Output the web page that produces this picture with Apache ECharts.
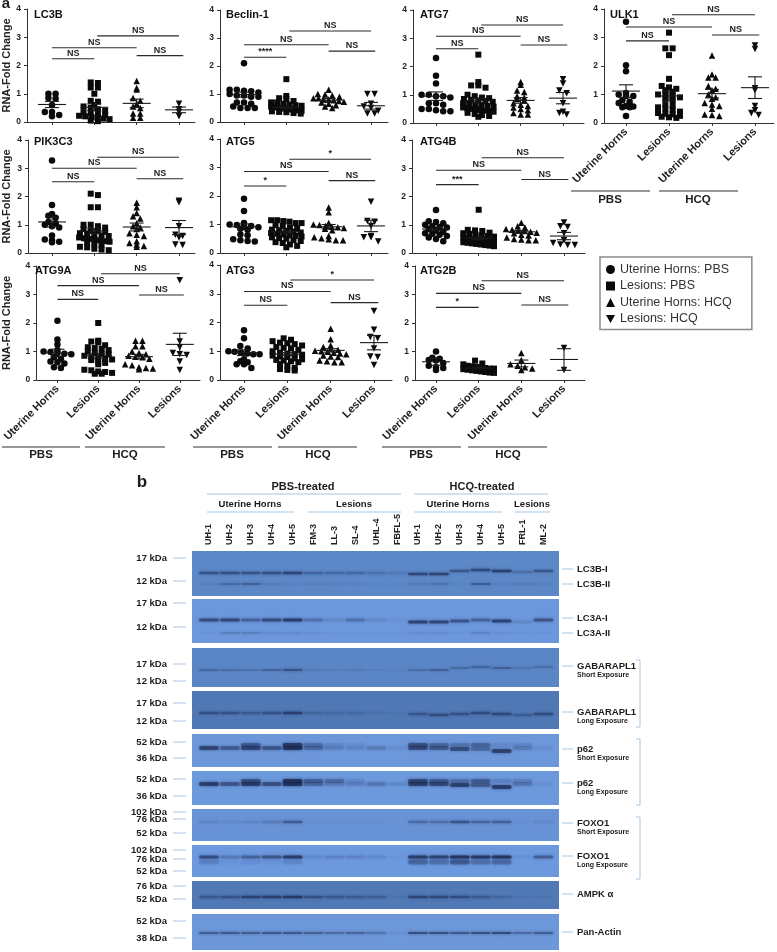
<!DOCTYPE html>
<html>
<head>
<meta charset="utf-8">
<style>html,body{margin:0;padding:0;background:#fff}#c{width:777px;height:952px;filter:blur(.35px)}</style>
<script src="https://cdn.jsdelivr.net/npm/echarts@6/dist/echarts.min.js"></script>
</head>
<body>
<div id="c"></div>
<script>
// ---------- data: RNA fold change ----------
const groupNames = ['Uterine Horns: PBS','Lesions: PBS','Uterine Horns: HCQ','Lesions: HCQ'];
const xCategories = ['Uterine Horns','Lesions','Uterine Horns','Lesions'];

const LC3B = [[1.0,1.0,.85,.83,.6,.35,.35,.25,.2],
 [1.4,1.38,1.22,1.22,1.0,.75,.72,.6,.55,.5,.45,.4,.35,.32,.28,.25,.22,.2,.18,.15,.12,.1,.05,.03],
 [1.45,1.2,1.15,.85,.75,.65,.55,.5,.3,.3,.15,.15],[.65,.45,.35,.2]];
const Beclin1 = [[2.1,1.15,1.15,1.12,1.1,1.05,1.0,.95,.95,.9,.9,.7,.7,.65,.55,.5,.5,.5],
 [1.53,.93,.85,.82,.75,.7,.7,.65,.62,.6,.58,.55,.55,.52,.5,.5,.48,.48,.45,.45,.42,.42,.4,.38,.36,.35,.32,.3],
 [1.15,1.0,.98,.95,.9,.85,.85,.8,.8,.78,.75,.72,.7,.65,.6,.55,.5],[1.0,1.0,.65,.55,.5,.4,.3,.3]];
const ATG7 = [[2.3,1.67,1.4,1.0,1.0,.95,.95,.9,.7,.7,.65,.5,.5,.45,.42,.42],
 [2.42,1.45,1.33,1.33,1.25,1.0,.95,.9,.88,.85,.82,.8,.78,.75,.7,.68,.65,.62,.6,.58,.55,.52,.5,.48,.46,.44,.42,.4,.36,.32,.28,.25,.22],
 [1.45,1.35,1.15,1.1,.95,.9,.85,.8,.7,.65,.6,.55,.5,.45,.35,.3,.3],[1.55,1.4,1.15,1.05,.7,.4,.35,.3]];
const ULK1 = [[3.55,2.03,1.82,1.05,1.0,.95,.95,.8,.75,.7,.6,.58,.55,.55,.25],
 [3.17,2.62,2.62,2.38,1.55,1.3,1.25,1.2,1.15,1.1,1.0,1.0,.95,.9,.85,.8,.65,.6,.55,.5,.45,.4,.35,.32,.3,.25,.22,.2,.18],
 [2.37,1.7,1.6,1.6,1.3,1.2,1.15,1.0,.9,.85,.7,.65,.6,.5,.3,.28,.25],[2.72,2.6,1.22,1.15,.6,.45,.35,.28]];
const PIK3C3 = [[3.27,1.7,1.38,1.32,1.25,1.1,1.05,1.0,.95,.9,.62,.48,.45,.4,.38],
 [2.1,2.05,1.62,1.62,1.0,1.0,.95,.9,.85,.8,.78,.75,.7,.68,.65,.62,.6,.55,.52,.5,.48,.45,.42,.4,.35,.32,.28,.22,.2,.15,.12,.1],
 [1.78,1.62,1.42,1.3,1.22,1.05,.95,.9,.85,.7,.65,.6,.42,.35,.3,.25,.22],[1.85,1.8,.95,.65,.6,.55,.3,.28]];
const ATG5 = [[1.9,1.47,1.05,1.0,.98,.95,.95,.9,.85,.82,.65,.62,.48,.45,.42,.4],
 [1.15,1.15,1.12,1.1,1.05,1.05,.98,.95,.9,.88,.82,.8,.78,.75,.72,.7,.68,.65,.62,.6,.58,.55,.52,.5,.45,.42,.38,.35,.3,.25,.2],
 [1.6,1.43,1.05,1.0,.98,.95,.92,.9,.88,.85,.8,.6,.55,.52,.48,.45,.45],[1.8,1.12,1.1,.95,.6,.55,.55,.4]];
const ATG4B = [[1.52,1.12,1.1,1.05,1.0,.95,.92,.9,.85,.8,.75,.7,.68,.65,.6,.55,.5,.42],
 [1.53,.82,.8,.78,.72,.7,.68,.65,.62,.6,.58,.55,.52,.5,.48,.46,.45,.42,.4,.38,.36,.34,.32,.3,.28,.26,.24],
 [1.07,.95,.9,.85,.82,.8,.78,.75,.72,.7,.65,.62,.55,.5,.48,.45,.45],[1.08,.95,.92,.7,.45,.35,.3,.28,.28]];
const ATG9A = [[2.08,1.42,1.25,1.05,1.0,.98,.95,.92,.9,.8,.75,.65,.62,.58,.45,.42],
 [2.0,1.38,1.35,1.32,1.22,1.15,1.12,1.1,1.05,1.0,.95,.92,.9,.85,.8,.78,.75,.72,.7,.65,.6,.55,.36,.34,.3,.28,.25,.22,.22],
 [1.38,1.38,1.18,1.18,1.0,.95,.9,.85,.82,.8,.75,.55,.52,.45,.42,.4,.38],[3.5,1.35,1.15,.95,.9,.88,.65,.35]];
const ATG3 = [[1.73,1.45,1.18,1.1,1.0,.98,.95,.92,.9,.9,.72,.65,.62,.55,.55,.42],
 [1.45,1.4,1.35,1.3,1.28,1.25,1.2,1.15,1.12,1.1,1.05,1.0,.95,.92,.9,.88,.85,.82,.8,.75,.72,.7,.68,.65,.62,.55,.5,.42,.38,.35,.33],
 [1.78,1.42,1.2,1.15,1.1,1.05,1.02,1.0,.98,.95,.92,.9,.85,.82,.8,.68,.65,.62,.62],[2.4,1.75,1.5,1.45,1.1,.82,.8,.52]];
const ATG2B = [[1.0,.78,.75,.7,.68,.6,.5,.45,.42,.35],
 [.68,.58,.55,.5,.48,.46,.44,.42,.4,.4,.38,.36,.34,.32,.3,.28,.26,.25],
 [.95,.7,.55,.5,.45,.4,.35],[1.12,.35]];

const means = {LC3B:[.62,.52,.66,.43],Beclin1:[.98,.52,.78,.58],ATG7:[.95,.8,.8,.88],ULK1:[1.12,.95,1.03,1.24],
 PIK3C3:[1.1,.78,.92,.9],ATG5:[.92,.75,.92,.95],ATG4B:[.85,.52,.75,.6],ATG9A:[.95,.85,.82,1.25],ATG3:[.95,.9,1.03,1.3],ATG2B:[.64,.42,.58,.72]};
const sems = {LC3B:[.11,.12,.15,.1],Beclin1:[.09,.05,.06,.12],ATG7:[.15,.07,.1,.2],ULK1:[.22,.17,.15,.38],
 PIK3C3:[.18,.09,.14,.25],ATG5:[.1,.05,.08,.2],ATG4B:[.06,.05,.05,.13],ATG9A:[.13,.08,.08,.39],ATG3:[.1,.05,.06,.25],ATG2B:[.12,.03,.12,.38]};
// significance bar heights (pair 0-1, 0-2, 1-3, 2-3) and their labels
const sigHeights = {LC3B:[2.24,2.63,3.05,2.35],Beclin1:[2.31,2.76,3.25,2.53],ATG7:[2.63,3.07,3.47,2.76],ULK1:[2.88,3.37,3.8,3.09],
 PIK3C3:[2.52,3.0,3.39,2.63],ATG5:[2.35,2.86,3.29,2.54],ATG4B:[2.42,2.93,3.37,2.6],ATG9A:[2.83,3.31,3.73,2.98],ATG3:[2.6,3.08,3.48,2.69],ATG2B:[2.55,3.04,3.48,2.63]};
const sigLabels = {LC3B:['NS','NS','NS','NS'],Beclin1:['****','NS','NS','NS'],ATG7:['NS','NS','NS','NS'],ULK1:['NS','NS','NS','NS'],
 PIK3C3:['NS','NS','NS','NS'],ATG5:['*','NS','*','NS'],ATG4B:['***','NS','NS','NS'],ATG9A:['NS','NS','NS','NS'],ATG3:['NS','NS','*','NS'],ATG2B:['*','NS','NS','NS']};

// ---------- data: western blot band densities (17 lanes) ----------
const lanes = ['UH-1','UH-2','UH-3','UH-4','UH-5','FM-3','LL-3','SL-4','UHL-4','FBFL-5','UH-1','UH-2','UH-3','UH-4','UH-5','FRL-1','ML-2'];
const lc3bI   = [.55,.6,.55,.6,.75,.35,.3,.3,.2,.12,.7,.75,.5,.7,.85,.25,.5];
const lc3bII  = [.08,.3,.4,.12,.05,.08,.05,.05,.03,.03,.12,.2,.03,.45,.05,.12,.05];
const lc3aI   = [.7,.75,.45,.7,.9,.3,.12,.3,.12,.03,.8,.75,.6,.45,.85,.12,.6];
const lc3aII  = [.03,.2,.2,.1,.1,.05,.02,.02,.02,.02,.08,.1,.03,.15,.05,.03,.03];
const gabShort= [.3,.25,.2,.35,.6,.1,.06,.1,.05,.03,.25,.4,.3,.35,.4,.15,.25];
const gabLong = [.5,.45,.35,.45,.75,.2,.15,.15,.08,.03,.4,.55,.45,.55,.6,.3,.55];
const p62ShortMain = [.75,.5,.75,.55,1,.35,.15,.12,.2,.05,.65,.5,.65,.35,.8,.2,.05];
const p62ShortUp   = [0,0,.5,0,.9,.3,.1,.05,0,0,.6,.35,.25,.4,.1,.1,0];
const p62LongMain  = [.85,.55,.85,.6,1,.35,.2,.15,.25,.1,.8,.7,.8,.5,.85,.25,.05];
const p62LongUp    = [0,0,.6,0,1,.45,.35,.1,0,0,.7,.5,.3,.5,.15,.15,0];
const foxoShort = [.1,.05,.1,.2,.5,.03,.03,.03,.03,0,.35,.3,.6,.4,.45,.02,.08];
const foxoLong  = [.7,.25,.45,.6,.9,.1,.15,.15,.1,.02,.9,.8,1,.95,1,.05,.5];
const foxoLong2 = [.15,.03,.05,.03,.1,0,0,0,0,0,.4,.3,.5,.3,.35,0,0];
const ampk      = [.4,.45,.7,.75,.85,.5,.4,.35,.3,.05,.65,.6,.55,.35,.2,.05,.05];
const actin     = [.55,.6,.55,.6,.6,.5,.4,.45,.3,.05,.7,.7,.6,.7,.75,.4,.55];

// ---------- layout ----------
const panels = [
 {k:'LC3B',t:'LC3B',v:LC3B,l:27,r:195,top:9,bot:122,x0:52,x3:179,tx:34,ty:9,name:1},
 {k:'Beclin1',t:'Beclin-1',v:Beclin1,l:220,r:388,top:10,bot:122,x0:244,x3:371,tx:226,ty:9},
 {k:'ATG7',t:'ATG7',v:ATG7,l:413,r:584,top:10,bot:123,x0:436,x3:563,tx:420,ty:9},
 {k:'ULK1',t:'ULK1',v:ULK1,l:604,r:774,top:9,bot:123,x0:626,x3:755,tx:610,ty:9,lab:1},
 {k:'PIK3C3',t:'PIK3C3',v:PIK3C3,l:28,r:195,top:140,bot:253,x0:52,x3:179,tx:34,ty:136,name:1},
 {k:'ATG5',t:'ATG5',v:ATG5,l:220,r:388,top:139,bot:253,x0:244,x3:371,tx:226,ty:136},
 {k:'ATG4B',t:'ATG4B',v:ATG4B,l:412,r:585,top:140,bot:253,x0:436,x3:564,tx:420,ty:136},
 {k:'ATG9A',t:'ATG9A',v:ATG9A,l:30,r:200,top:266,bot:380,x0:52,x3:179,tx:35,ty:265,name:1,lab:1,gapExtra:6},
 {k:'ATG3',t:'ATG3',v:ATG3,l:220,r:392,top:265,bot:380,x0:244,x3:374,tx:226,ty:265,lab:1},
 {k:'ATG2B',t:'ATG2B',v:ATG2B,l:415,r:585,top:266,bot:380,x0:436,x3:564,tx:420,ty:265,lab:1}
];
const ink = '#1a1a1a';
const font = 'Liberation Sans, Arial, sans-serif';
const invTri = 'path://M0,0L10,0L5,9Z';
const symbols = ['circle','rect','triangle',invTri];
const symSizes = [6.5,6,6.5,6.5];

// Prism-like swarm: points that fall in the same value bin spread symmetrically.
function swarm(vals){
  const bins = new Map();
  vals.forEach(v=>{const b=Math.round(v/0.16);(bins.get(b)||bins.set(b,[]).get(b)).push(v);});
  const out=[];
  bins.forEach(list=>{
    const n=list.length, step=Math.min(.17, n>1?.72/(n-1):.17);
    list.forEach((v,i)=>out.push([(i-(n-1)/2)*step,v]));
  });
  return out;
}

const grid=[],xAxis=[],yAxis=[],series=[],title=[];
panels.forEach((p,i)=>{
  const u=(p.x3-p.x0)/3;
  grid.push({left:p.l,top:p.top,width:p.r-p.l,height:p.bot-p.top});
  xAxis.push({type:'value',gridIndex:i,min:(p.l-p.x0)/u,max:(p.r-p.x0)/u,splitLine:{show:false},
    axisLine:{onZero:false,lineStyle:{color:'#333',width:1}},
    axisTick:{show:true,customValues:[0,1,2,3],length:3,lineStyle:{color:'#333'}},
    axisLabel:p.lab?{show:true,customValues:[0,1,2,3],rotate:45,margin:7,align:'right',verticalAlign:'middle',fontFamily:font,fontWeight:'bold',fontSize:11,color:'#222',
       formatter:v=>xCategories[Math.round(v)]}:{show:false}});
  yAxis.push({type:'value',gridIndex:i,min:0,max:4,interval:1,splitLine:{show:false},
    axisLine:{show:true,onZero:false,lineStyle:{color:'#333',width:1}},axisTick:{show:true,length:3,lineStyle:{color:'#333'}},
    axisLabel:{fontFamily:font,fontWeight:'bold',fontSize:8.5,color:'#222',margin:6},
    name:p.name?'RNA-Fold Change':'',nameLocation:'middle',nameGap:p.l-12+(p.gapExtra||0),nameTextStyle:{fontFamily:font,fontWeight:'bold',fontSize:11,color:'#222'}});
  title.push({text:p.t,left:p.tx,top:p.ty,padding:0,textStyle:{fontFamily:font,fontWeight:'bold',fontSize:11,color:'#111'}});
  p.v.forEach((vals,g)=>{
    series.push({type:'scatter',name:groupNames[g],xAxisIndex:i,yAxisIndex:i,symbol:symbols[g],symbolSize:symSizes[g],
      itemStyle:{color:'#0a0a0a',opacity:1},silent:true,
      data:swarm(vals).map(d=>[g+d[0],d[1]])});
  });
  // mean +/- SEM
  series.push({type:'custom',xAxisIndex:i,yAxisIndex:i,silent:true,z:5,clip:false,
    data:means[p.k].map((m,g)=>[g,m,sems[p.k][g]]),encode:{x:0,y:1},
    renderItem:(ctx,api)=>{
      const x=api.value(0),m=api.value(1),s=api.value(2);
      const c=api.coord([x,m]),a=api.coord([x,m+s]),b=api.coord([x,m-s]);
      const st={stroke:ink,lineWidth:1.1};
      const seg=(x1,y1,x2,y2)=>({type:'line',shape:{x1,y1,x2,y2},style:st});
      return {type:'group',children:[seg(c[0]-14,c[1],c[0]+14,c[1]),seg(a[0],a[1],b[0],b[1]),
        seg(a[0]-7,a[1],a[0]+7,a[1]),seg(b[0]-7,b[1],b[0]+7,b[1])]};
    }});
  // significance bars
  const pairs=[[0,1],[0,2],[1.07,3],[2,3.1]];
  series.push({type:'custom',xAxisIndex:i,yAxisIndex:i,silent:true,clip:false,
    data:pairs.map((q,j)=>[q[0],q[1],sigHeights[p.k][j],sigLabels[p.k][j]]),
    encode:{x:[0,1],y:2},
    renderItem:(ctx,api)=>{
      const a=api.coord([api.value(0),api.value(2)]),b=api.coord([api.value(1),api.value(2)]);
      const txt=sigLabels[p.k][ctx.dataIndex];
      return {type:'group',children:[
        {type:'line',shape:{x1:a[0],y1:a[1],x2:b[0],y2:b[1]},style:{stroke:'#2a2a2a',lineWidth:1.1}},
        {type:'text',style:{text:txt,x:(a[0]+b[0])/2,y:a[1]-1,align:'center',verticalAlign:'bottom',
          font:'bold 9px '+font,fill:'#222'}}]};
    }});
});

// ---------- blots ----------
const tilt=(base,arr)=>Array(10).fill(base).concat(arr);
const blots=[
 {top:551,bot:596,color:'#5c88c8',kda:[[7,'17 kDa'],[30,'12 kDa']],rows:[{y:tilt(22,[23,23,20,19,20,21,20]),v:lc3bI,h:2.5},{y:33,v:lc3bII,h:2}]},
 {top:599,bot:643,color:'#6c97dc',kda:[[4,'17 kDa'],[28,'12 kDa']],rows:[{y:tilt(21,[23,23,22,21,22,23,21]),v:lc3aI,h:3},{y:34,v:lc3aII,h:2}]},
 {top:648,bot:687,color:'#5b86c6',kda:[[16,'17 kDa'],[33,'12 kDa']],rows:[{y:tilt(22,[22,22,20,19,20,20,19]),v:gabShort,h:2}]},
 {top:691,bot:729,color:'#4f78b5',kda:[[12,'17 kDa'],[30,'12 kDa']],rows:[{y:tilt(22,[23,24,23,22,23,24,23]),v:gabLong,h:2.5}]},
 {top:734,bot:767,color:'#6c97da',kda:[[8,'52 kDa'],[24,'36 kDa']],rows:[{y:tilt(14,[14,14,15,15,17,14,14]),v:p62ShortMain,h:4},{y:11,v:p62ShortUp,h:4}]},
 {top:771,bot:805,color:'#6c98dc',kda:[[8,'52 kDa'],[25,'36 kDa']],rows:[{y:tilt(13,[13,13,14,14,16,13,13]),v:p62LongMain,h:4},{y:10,v:p62LongUp,h:4}]},
 {top:809,bot:841,color:'#6892d6',kda:[[3,'102 kDa'],[10,'76 kDa'],[24,'52 kDa']],rows:[{y:13,v:foxoShort,h:2.5}]},
 {top:845,bot:877,color:'#6c98de',kda:[[5,'102 kDa'],[14,'76 kDa'],[26,'52 kDa']],rows:[{y:12,v:foxoLong,h:3},{y:17,v:foxoLong2,h:5}]},
 {top:881,bot:909,color:'#5079b6',kda:[[5,'76 kDa'],[18,'52 kDa']],rows:[{y:16,v:ampk,h:2.5}]},
 {top:914,bot:950,color:'#6c97d8',kda:[[7,'52 kDa'],[24,'38 kDa']],rows:[{y:19,v:actin,h:2.2}]}
];
const blotL=192,blotR=559,lane0=209,laneW=20.9;
blots.forEach((b,j)=>{
  const i=panels.length+j;
  grid.push({left:blotL,top:b.top,width:blotR-blotL,height:b.bot-b.top,show:true,backgroundColor:b.color,borderWidth:0});
  xAxis.push({type:'value',gridIndex:i,position:'top',min:(blotL-lane0)/laneW,max:(blotR-lane0)/laneW,splitLine:{show:false},
    axisLine:{show:false},axisTick:{show:false},
    axisLabel:j===0?{show:true,customValues:lanes.map((_,q)=>q),rotate:90,margin:6,fontFamily:font,fontWeight:'bold',fontSize:9,color:'#222',
       formatter:v=>lanes[Math.round(v)]}:{show:false}});
  yAxis.push({type:'value',gridIndex:i,inverse:true,min:0,max:b.bot-b.top,splitLine:{show:false},axisLine:{show:false},
    axisTick:{show:false},axisLabel:{show:false}});
  const data=[];
  b.rows.forEach(r=>r.v.forEach((d,q)=>{if(d>0)data.push([q,Array.isArray(r.y)?r.y[q]:r.y,d,r.h]);}));
  series.push({type:'custom',xAxisIndex:i,yAxisIndex:i,silent:true,data,encode:{x:0,y:1},
    renderItem:(ctx,api)=>{
      const c=api.coord([api.value(0),api.value(1)]),h=api.value(3);
      return {type:'rect',shape:{x:c[0]-10,y:c[1]-h/2,width:20,height:h,r:h/2},
        style:{fill:'#16224a',opacity:api.value(2)*.68,shadowBlur:3,shadowColor:'#16224a'}};
    }});
});

// ---------- annotation text and rules ----------
const pale='#a8c6e4';
const T=(text,x,y,size,opt={})=>({type:'text',silent:true,style:{text,x,y,align:opt.a||'center',verticalAlign:'middle',
  font:(opt.w||'bold')+' '+size+'px '+font,fill:opt.c||'#1c1c1c'}});
const L=(x1,y1,x2,y2,c='#333',w=1)=>({type:'line',silent:true,shape:{x1,y1,x2,y2},style:{stroke:c,lineWidth:w}});
const graphicEls=[T('a',6,4,15),T('b',142,482,17)];
blots.forEach(b=>b.kda.forEach(d=>{
  graphicEls.push(L(173,b.top+d[0],186,b.top+d[0],pale),T(d[1],167,b.top+d[0],9.5,{a:'right'}));
}));
[[571,650,659,738,191,610,698,200],[2,80,85,165,447,41,125,455],[193,272,278,357,447,232,318,455],[382,461,468,547,447,421,508,455]].forEach(g=>{
  graphicEls.push(L(g[0],g[4],g[1],g[4]),L(g[2],g[4],g[3],g[4]),T('PBS',g[5],g[7],11.5),T('HCQ',g[6],g[7],11.5));
});
[['PBS-treated',303,487,11],['HCQ-treated',482,487,11],['Uterine Horns',250,504,9.5],['Lesions',354,504,9.5],['Uterine Horns',458,504,9.5],['Lesions',532,504,9.5]]
  .forEach(h=>graphicEls.push(T(h[0],h[1],h[2],h[3])));
[[207,401,494],[414,548,494],[207,294,512],[308,401,512],[414,502,512],[515,550,512]]
  .forEach(h=>graphicEls.push(L(h[0],h[2],h[1],h[2],pale)));
const rightLabels=[['LC3B-I',569],['LC3B-II',584],['LC3A-I',618],['LC3A-II',633],['GABARAPL1',666,'Short Exposure'],['GABARAPL1',712,'Long Exposure'],
 ['p62',749,'Short Exposure'],['p62',783,'Long Exposure'],['FOXO1',823,'Short Exposure'],['FOXO1',856,'Long Exposure'],['AMPK α',894],['Pan-Actin',932]];
rightLabels.forEach(r=>{
  graphicEls.push(L(562,r[1],573,r[1],pale),T(r[0],577,r[1],9.5,{a:'left'}));
  if(r[2])graphicEls.push(T(r[2],577,r[1]+9.5,7,{a:'left'}));
});
[[660,727],[739,805],[817,879]].forEach(b=>{
  graphicEls.push(L(636,b[0],640,b[0],pale),L(640,b[0],640,b[1],pale),L(636,b[1],640,b[1],pale));
});

const chart=echarts.init(document.getElementById('c'),null,{renderer:'canvas'});
chart.setOption({
  animation:false,backgroundColor:'#fff',title,grid,xAxis,yAxis,series,
  legend:{show:true,data:groupNames,orient:'vertical',left:600,top:257,padding:[6,20,4,6],itemGap:3.5,
    itemWidth:9,itemHeight:9,selectedMode:false,borderColor:'#8a8a8a',borderWidth:1.5,backgroundColor:'#fff',
    textStyle:{fontFamily:font,fontSize:12.5,color:'#333'}},
  graphic:{elements:graphicEls}
});
</script>
</body>
</html>
